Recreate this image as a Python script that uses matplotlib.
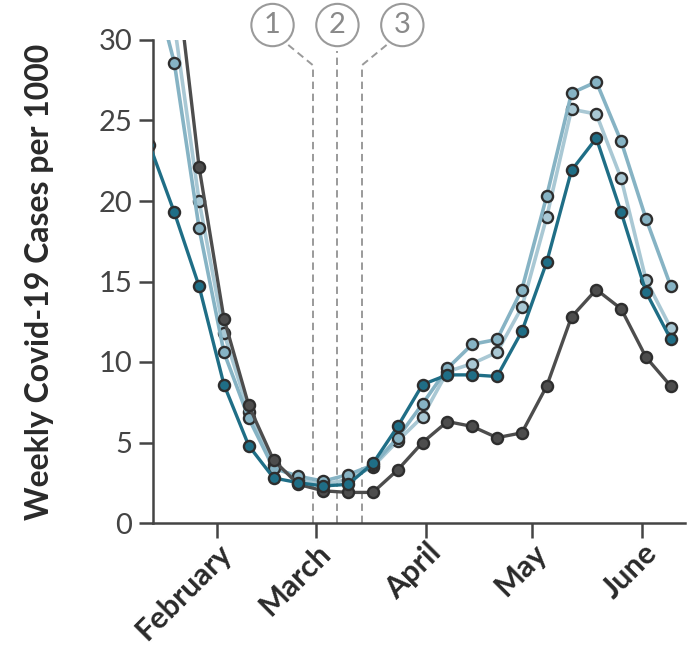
import matplotlib
matplotlib.use("Agg")
import matplotlib.pyplot as plt
import matplotlib.dates as mdates
import numpy as np
import datetime as dt

# ---- data ----
start = dt.date(2021, 1, 13)
n_weeks = 22
dates = [start + dt.timedelta(days=7 * k) for k in range(n_weeks)]

series_light_a = [34.5, 28.6, 18.3, 10.6, 6.5, 3.4, 2.9, 2.6, 3.0, 3.6, 5.3, 7.4, 9.6, 11.1, 11.4, 14.5, 20.3, 26.7, 27.4, 23.7, 18.9, 14.7]
series_light_b = [38.0, 31.0, 20.0, 11.8, 6.9, 3.6, 2.7, 2.4, 2.7, 3.5, 5.1, 6.6, 9.4, 9.9, 10.6, 13.4, 19.0, 25.7, 25.4, 21.4, 15.1, 12.1]
series_teal    = [23.5, 19.3, 14.7, 8.6, 4.8, 2.8, 2.5, 2.3, 2.4, 3.7, 6.0, 8.6, 9.2, 9.2, 9.1, 11.9, 16.2, 21.9, 23.9, 19.3, 14.35, 11.4]
series_dark    = [45.0, 35.3, 22.1, 12.7, 7.3, 3.9, 2.4, 2.0, 1.9, 1.9, 3.3, 5.0, 6.3, 6.0, 5.3, 5.6, 8.5, 12.8, 14.5, 13.3, 10.3, 8.5]

month_ticks = [dt.date(2021, 2, 1), dt.date(2021, 3, 1), dt.date(2021, 4, 1), dt.date(2021, 5, 1), dt.date(2021, 6, 1)]
month_labels = ["February", "March", "April", "May", "June"]
yticks = [0, 5, 10, 15, 20, 25, 30]
event_dates = [dt.date(2021, 2, 28), dt.date(2021, 3, 7), dt.date(2021, 3, 14)]
event_labels = ["1", "2", "3"]
ylabel = "Weekly Covid-19 Cases per 1000"

# ---- figure ----
plt.rcParams['font.family'] = ['Lato', 'DejaVu Sans']
fig = plt.figure(figsize=(6.95, 6.54), dpi=100)
ax = fig.add_axes([153 / 695, 1 - 523 / 654, (685 - 153) / 695, (523 - 40) / 654])

edge = "#2e2e2e"
styles = [
    (series_light_b, "#a9c8d4", 2.6),
    (series_light_a, "#86b3c4", 2.6),
    (series_dark, "#4d4d4d", 2.4),
    (series_teal, "#1f6e86", 2.4),
]
for vals, col, lw in styles:
    ax.plot(dates, vals, color=col, lw=lw, marker="o", ms=8, mfc=col,
            mec=edge, mew=1.7, solid_joinstyle="round", zorder=3)

ax.set_ylim(0, 30)
ax.set_xlim(dt.date(2021, 1, 14) + dt.timedelta(hours=10), dt.date(2021, 6, 13) + dt.timedelta(hours=16))

# event dashed lines with circled labels
y_bend = 28.45
label_y = 30.93
lab_offsets = [-11.3, 0.0, 11.3]
dash = (0, (3.8, 2.4))
for d, lab, off in zip(event_dates, event_labels, lab_offsets):
    xd = mdates.date2num(d)
    xl = xd + off
    ax.plot([xd, xd], [0, y_bend], ls=dash, color="#9a9a9a", lw=1.4, zorder=2, clip_on=False)
    if off != 0:
        ax.plot([xd, xd + off * 0.66], [y_bend, 29.8], ls=dash, color="#9a9a9a", lw=1.4, zorder=2, clip_on=False)
    else:
        ax.plot([xd, xd], [y_bend, 29.3], ls=dash, color="#9a9a9a", lw=1.4, zorder=2, clip_on=False)
    ax.text(xl, label_y, lab, ha="center", va="center", fontsize=21, color="#8a8a8a",
            bbox=dict(boxstyle="circle,pad=0.28", fc="white", ec="#9a9a9a", lw=1.5), clip_on=False)

# axes styling
for s in ["top", "right"]:
    ax.spines[s].set_visible(False)
for s in ["left", "bottom"]:
    ax.spines[s].set_color("#444444")
    ax.spines[s].set_linewidth(1.8)

ax.set_yticks(yticks)
ax.set_yticklabels([str(v) for v in yticks])
ax.set_xticks([mdates.date2num(d) for d in month_ticks])
ax.set_xticklabels(month_labels, rotation=45, ha="right", va="top", rotation_mode="anchor",
                   fontsize=22, fontweight="bold", color="#2a2a2a")
ax.tick_params(axis="y", length=10, width=1.8, color="#444444", labelsize=21, labelcolor="#444444", pad=5)
ax.tick_params(axis="x", length=11, width=1.8, color="#444444", pad=0)

fig.text(40 / 695, 1 - 282 / 654, ylabel, rotation=90, ha="center", va="center",
         fontsize=23, fontweight="bold", color="#2a2a2a")

fig.savefig("out.png", dpi=100)
